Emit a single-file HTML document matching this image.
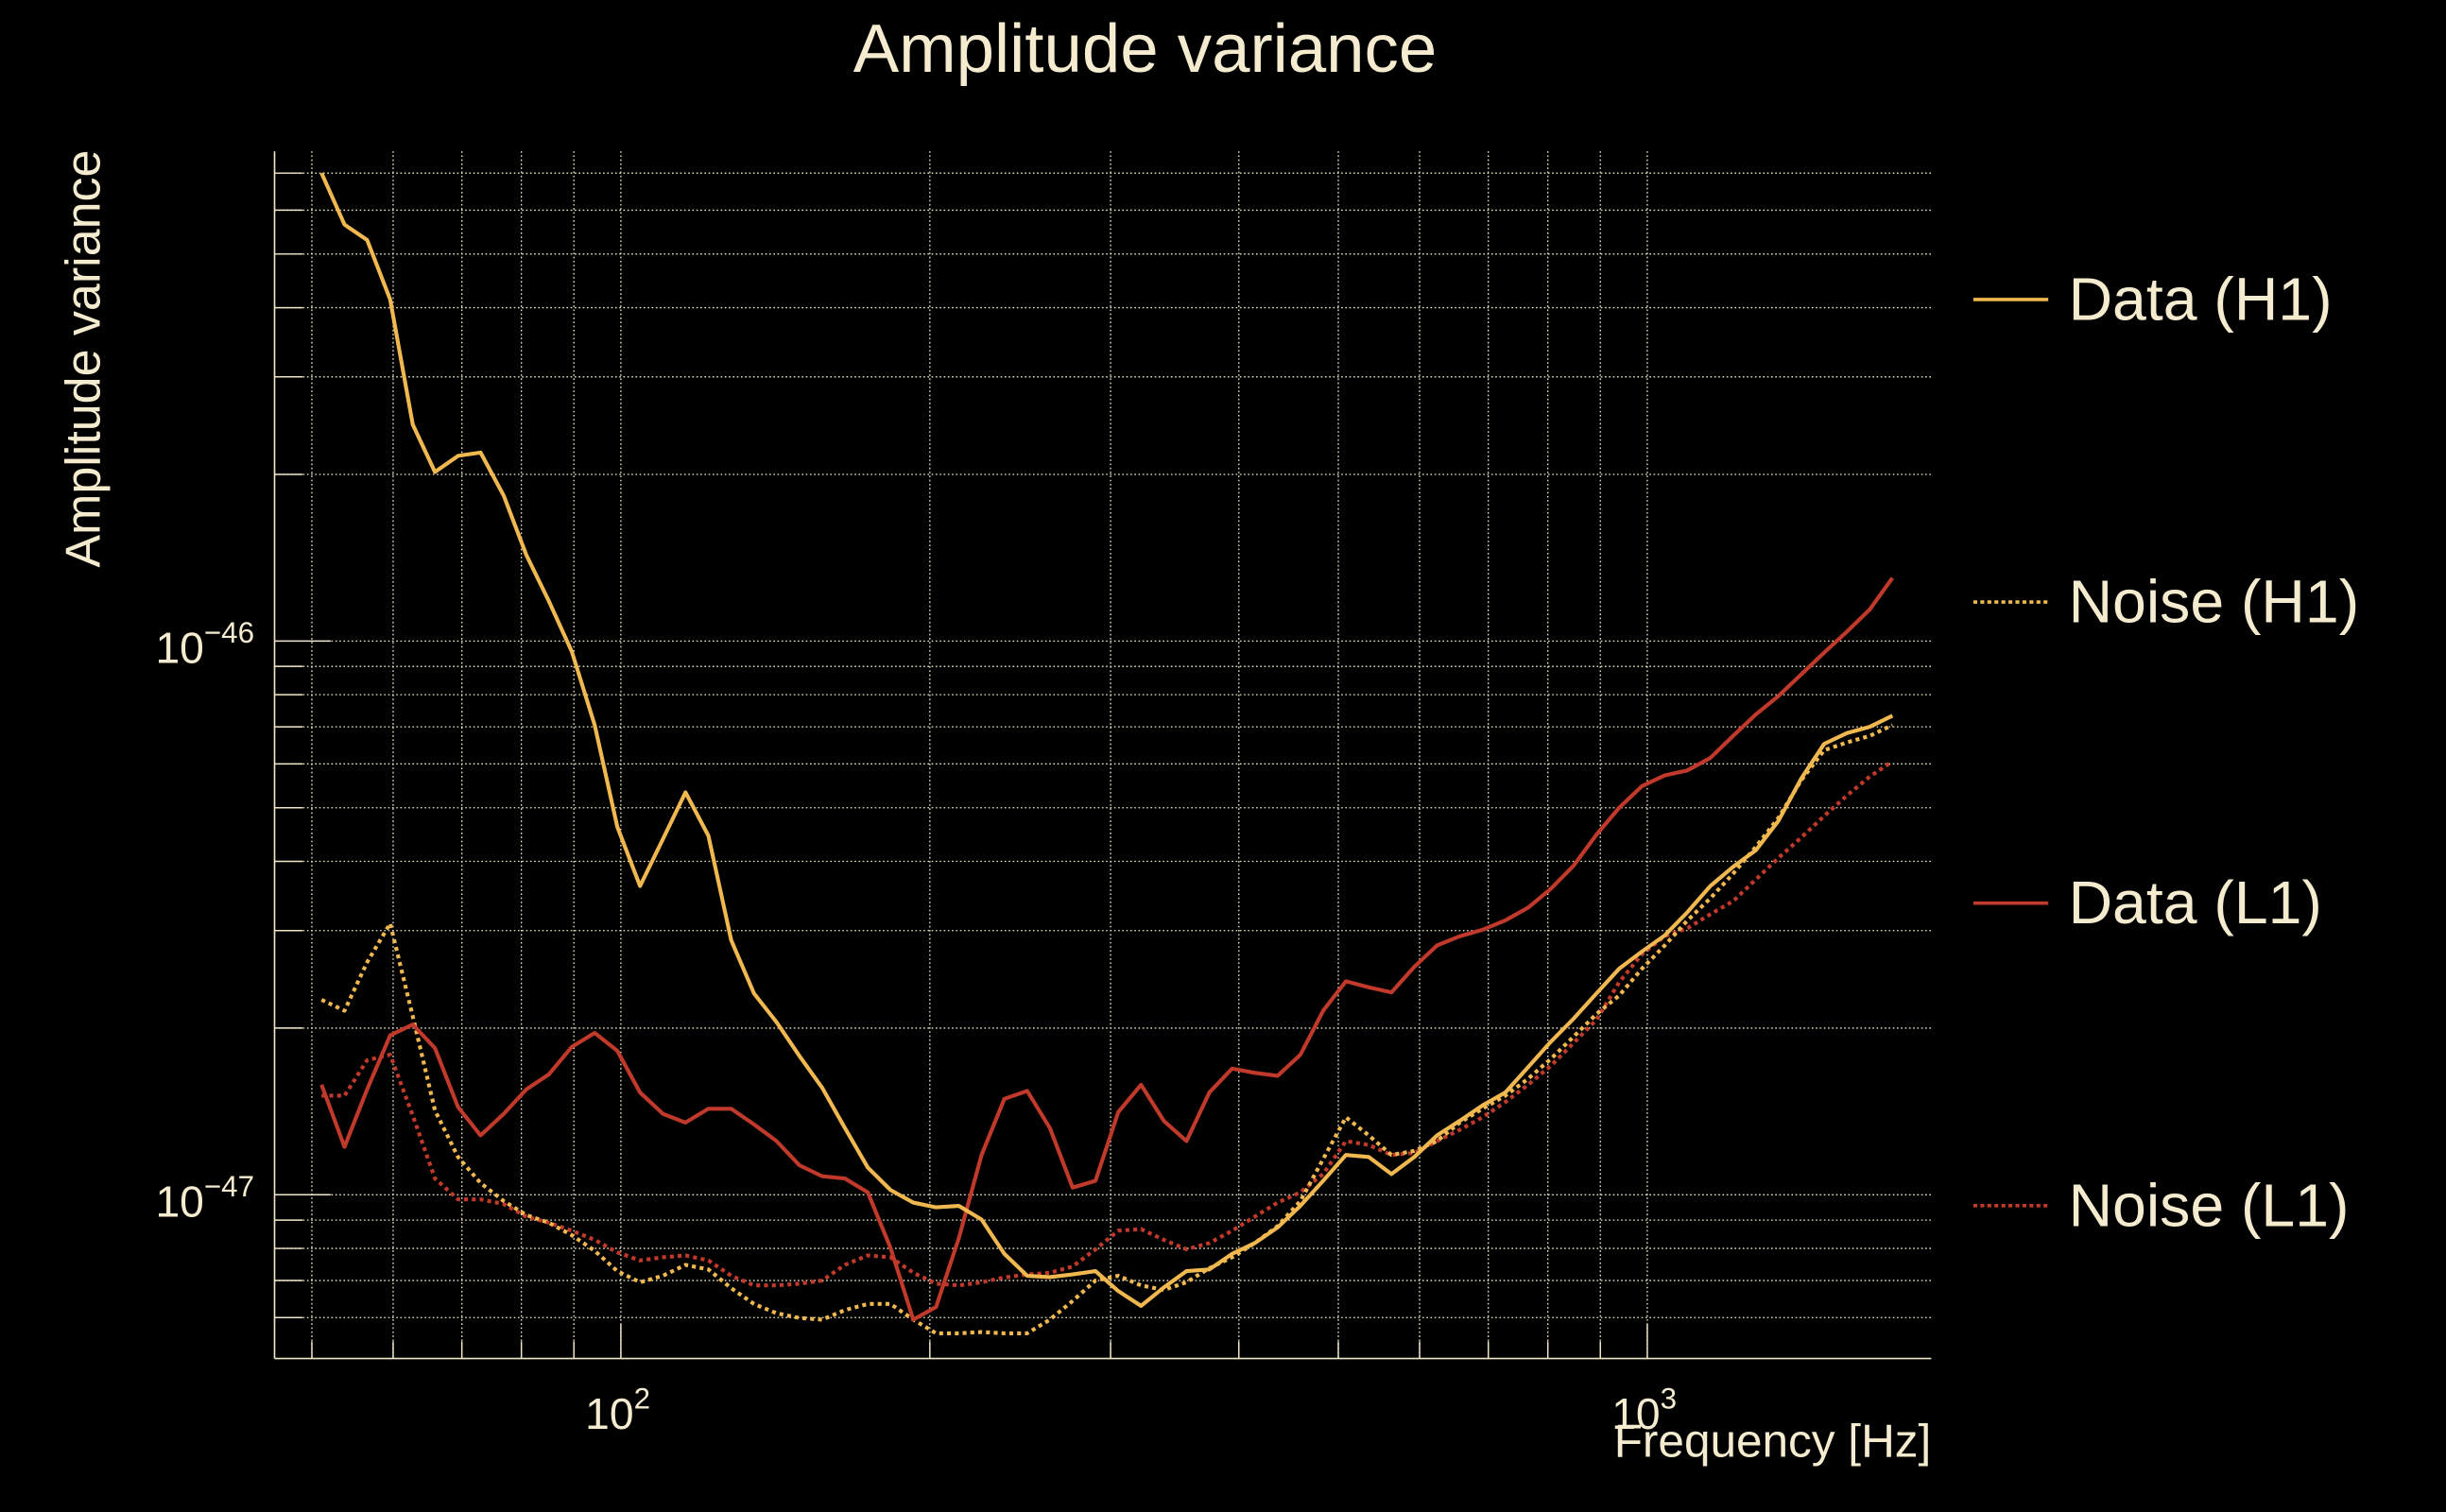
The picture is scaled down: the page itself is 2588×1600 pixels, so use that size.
<!DOCTYPE html>
<html><head><meta charset="utf-8"><style>
html,body{margin:0;padding:0;background:#000;}
svg{display:block;}
text{font-family:"Liberation Sans",sans-serif;fill:#f5ebcf;}
</style></head><body>
<svg id="chart" width="2588" height="1600" viewBox="0 0 1568 969.4" xmlns="http://www.w3.org/2000/svg">
<rect x="0" y="0" width="1568" height="970" fill="#000"/>
<g id="grid"></g>
<g id="axes"></g>
<g id="series"></g>
<text x="734" y="46" font-size="44" text-anchor="middle">Amplitude variance</text>
<text transform="translate(64,230) rotate(-90)" font-size="31.5" text-anchor="middle">Amplitude variance</text>
<text x="1238" y="934" font-size="30" text-anchor="end">Frequency [Hz]</text>
<g>
 <g><line x1="1265" y1="192" x2="1313" y2="192" stroke="#f0b84e" stroke-width="2.2"/><text x="1326" y="205" font-size="39">Data (H1)</text></g>
 <g><line x1="1265" y1="386" x2="1313" y2="386" stroke="#f0b84e" stroke-width="2.2" stroke-dasharray="2.5,2"/><text x="1326" y="399" font-size="39">Noise (H1)</text></g>
 <g><line x1="1265" y1="579" x2="1313" y2="579" stroke="#c0392b" stroke-width="2.2"/><text x="1326" y="592" font-size="39">Data (L1)</text></g>
 <g><line x1="1265" y1="773" x2="1313" y2="773" stroke="#c0392b" stroke-width="2.2" stroke-dasharray="2.5,2"/><text x="1326" y="786" font-size="39">Noise (L1)</text></g>
</g>
</svg>
<script>
const freqs = [51.1,53.8,56.6,59.6,62.7,65.9,69.4,73.0,76.9,80.9,85.1,89.6,94.3,99.2,104.4,109.9,115.6,121.7,128.1,134.8,141.8,149.3,157.1,165.3,174.0,183.1,192.7,202.8,213.4,224.6,236.4,248.8,261.8,275.5,290.0,305.2,321.2,338.0,355.7,374.4,394.0,414.6,436.4,459.2,483.3,508.6,535.3,563.3,592.9,623.9,656.6,691.0,727.3,765.4,805.5,847.7,892.2,938.9,988.1,1039.9,1094.4,1151.8,1212.1,1275.7,1342.5,1412.9,1486.9,1564.9,1646.9,1733.2];
const dataH1 = [7.0e-46,5.65e-46,5.3e-46,4.14e-46,2.46e-46,2.02e-46,2.16e-46,2.19e-46,1.83e-46,1.43e-46,1.18e-46,9.56e-47,7.05e-47,4.62e-47,3.61e-47,4.39e-47,5.33e-47,4.45e-47,2.88e-47,2.31e-47,2.05e-47,1.78e-47,1.56e-47,1.32e-47,1.12e-47,1.02e-47,9.68e-48,9.49e-48,9.55e-48,9.02e-48,7.82e-48,7.14e-48,7.10e-48,7.18e-48,7.28e-48,6.7e-48,6.3e-48,6.8e-48,7.28e-48,7.33e-48,7.82e-48,8.18e-48,8.73e-48,9.55e-48,1.06e-47,1.18e-47,1.17e-47,1.09e-47,1.17e-47,1.28e-47,1.36e-47,1.45e-47,1.53e-47,1.70e-47,1.89e-47,2.08e-47,2.31e-47,2.56e-47,2.75e-47,2.94e-47,3.24e-47,3.61e-47,3.91e-47,4.19e-47,4.74e-47,5.65e-47,6.52e-47,6.82e-47,7.0e-47,7.33e-47];
const noiseH1 = [2.25e-47,2.15e-47,2.63e-47,3.09e-47,2.10e-47,1.42e-47,1.17e-47,1.05e-47,9.74e-48,9.19e-48,8.9e-48,8.45e-48,7.92e-48,7.28e-48,6.95e-48,7.14e-48,7.47e-48,7.33e-48,6.78e-48,6.35e-48,6.11e-48,5.99e-48,5.95e-48,6.19e-48,6.35e-48,6.35e-48,5.95e-48,5.62e-48,5.62e-48,5.65e-48,5.62e-48,5.62e-48,5.95e-48,6.43e-48,7.0e-48,7.14e-48,6.86e-48,6.73e-48,6.95e-48,7.37e-48,7.71e-48,8.18e-48,8.78e-48,9.74e-48,1.16e-47,1.38e-47,1.28e-47,1.18e-47,1.20e-47,1.25e-47,1.35e-47,1.43e-47,1.51e-47,1.62e-47,1.76e-47,1.93e-47,2.12e-47,2.29e-47,2.56e-47,2.82e-47,3.13e-47,3.43e-47,3.80e-47,4.25e-47,4.80e-47,5.61e-47,6.35e-47,6.56e-47,6.74e-47,7.05e-47];
const dataL1 = [1.58e-47,1.22e-47,1.55e-47,1.94e-47,2.03e-47,1.84e-47,1.44e-47,1.28e-47,1.40e-47,1.55e-47,1.65e-47,1.85e-47,1.96e-47,1.82e-47,1.53e-47,1.40e-47,1.35e-47,1.43e-47,1.43e-47,1.34e-47,1.25e-47,1.13e-47,1.08e-47,1.07e-47,1.01e-47,8.02e-48,5.95e-48,6.27e-48,8.34e-48,1.18e-47,1.49e-47,1.54e-47,1.32e-47,1.03e-47,1.06e-47,1.41e-47,1.58e-47,1.36e-47,1.25e-47,1.53e-47,1.69e-47,1.66e-47,1.64e-47,1.79e-47,2.15e-47,2.43e-47,2.37e-47,2.32e-47,2.58e-47,2.82e-47,2.93e-47,3.01e-47,3.13e-47,3.30e-47,3.57e-47,3.93e-47,4.47e-47,5.0e-47,5.47e-47,5.72e-47,5.84e-47,6.15e-47,6.74e-47,7.37e-47,7.96e-47,8.71e-47,9.53e-47,1.04e-46,1.14e-46,1.30e-46];
const noiseL1 = [1.51e-47,1.51e-47,1.75e-47,1.79e-47,1.39e-47,1.07e-47,9.81e-48,9.81e-48,9.62e-48,9.13e-48,8.9e-48,8.61e-48,8.29e-48,7.87e-48,7.61e-48,7.71e-48,7.77e-48,7.61e-48,7.14e-48,6.86e-48,6.86e-48,6.91e-48,7.0e-48,7.47e-48,7.77e-48,7.71e-48,7.23e-48,6.91e-48,6.86e-48,6.95e-48,7.09e-48,7.18e-48,7.23e-48,7.42e-48,7.97e-48,8.61e-48,8.67e-48,8.29e-48,7.97e-48,8.18e-48,8.61e-48,9.13e-48,9.68e-48,1.01e-47,1.09e-47,1.25e-47,1.23e-47,1.18e-47,1.19e-47,1.25e-47,1.31e-47,1.38e-47,1.47e-47,1.58e-47,1.71e-47,1.88e-47,2.07e-47,2.42e-47,2.72e-47,2.93e-47,3.03e-47,3.21e-47,3.39e-47,3.71e-47,4.06e-47,4.42e-47,4.83e-47,5.26e-47,5.69e-47,6.06e-47];
const xGridFreqs = [50,60,70,80,90,100,200,300,400,500,600,700,800,900,1000];
const yGridVals = [6e-48,7e-48,8e-48,9e-48,1e-47,2e-47,3e-47,4e-47,5e-47,6e-47,7e-47,8e-47,9e-47,1e-46,2e-46,3e-46,4e-46,5e-46,6e-46,7e-46];
const xTickLabels = [[100,"2"],[1000,"3"]];
const yTickLabels = [[1e-46,"\u221246"],[1e-47,"\u221247"]];

const NS = "http://www.w3.org/2000/svg";
const L = 176, R = 1238, T = 97, B = 871;
function xs(f){ return 398 + 658*(Math.log10(f) - 2); }
function ys(v){ return 411 - 355*(Math.log10(v) + 46); }
function mk(tag, attrs, parent){ const e = document.createElementNS(NS, tag); for (const k in attrs) e.setAttribute(k, attrs[k]); parent.appendChild(e); return e; }
const grid = document.getElementById('grid'), axes = document.getElementById('axes'), ser = document.getElementById('series');
const gc = "#efe6c8";
xGridFreqs.forEach(f => {
  const x = xs(f); const major = (f===100||f===1000);
  const g = mk('line', {x1:x, y1:T, x2:x, y2:B, stroke:gc, 'stroke-width':0.8, 'stroke-dasharray':'1,1.6'}, grid);
  
  
  const t = mk('line', {x1:x, y1:B, x2:x, y2:B-(major?22:11), stroke:gc, 'stroke-width':0.9}, axes);
  
  
});
yGridVals.forEach(v => {
  const y = ys(v); const major = (v===1e-46||v===1e-47);
  const g = mk('line', {x1:L, y1:y, x2:R, y2:y, stroke:gc, 'stroke-width':0.8, 'stroke-dasharray':'1,1.6'}, grid);
  
  
  const t = mk('line', {x1:L, y1:y, x2:L+(major?36:18), y2:y, stroke:gc, 'stroke-width':0.9}, axes);
  
  
});
const ya = mk('line', {x1:L, y1:T, x2:L, y2:B, stroke:gc, 'stroke-width':1}, axes);


const xa = mk('line', {x1:L, y1:B, x2:R, y2:B, stroke:gc, 'stroke-width':1}, axes);


xTickLabels.forEach(([f, ex]) => {
  const t = mk('text', {x:xs(f)-2, y:916, 'font-size':28, 'text-anchor':'middle'}, axes);
  
  
  t.textContent = "10";
  const s = mk('tspan', {dy:-13, 'font-size':19}, t); s.textContent = ex;
});
yTickLabels.forEach(([v, ex]) => {
  const t = mk('text', {x:163, y:ys(v)+14, 'font-size':28, 'text-anchor':'end'}, axes);
  
  
  t.textContent = "10";
  const s = mk('tspan', {dy:-13, 'font-size':19}, t); s.textContent = ex;
});
function draw(vals, color, dotted, name){
  const d = vals.map((v,i) => (i?'L':'M') + xs(freqs[i]).toFixed(2) + ',' + ys(v).toFixed(2)).join(' ');
  const p = mk('path', {d:d, fill:'none', stroke:color, 'stroke-width':2.5, 'stroke-linejoin':'round'}, ser);
  if (dotted) p.setAttribute('stroke-dasharray', '2.5,2.5');
  
  
}
draw(noiseL1, '#c0392b', true, 'noise-l1-line');
draw(noiseH1, '#f0b84e', true, 'noise-h1-line');
draw(dataL1, '#c0392b', false, 'data-l1-line');
draw(dataH1, '#f0b84e', false, 'data-h1-line');
</script>
</body></html>
